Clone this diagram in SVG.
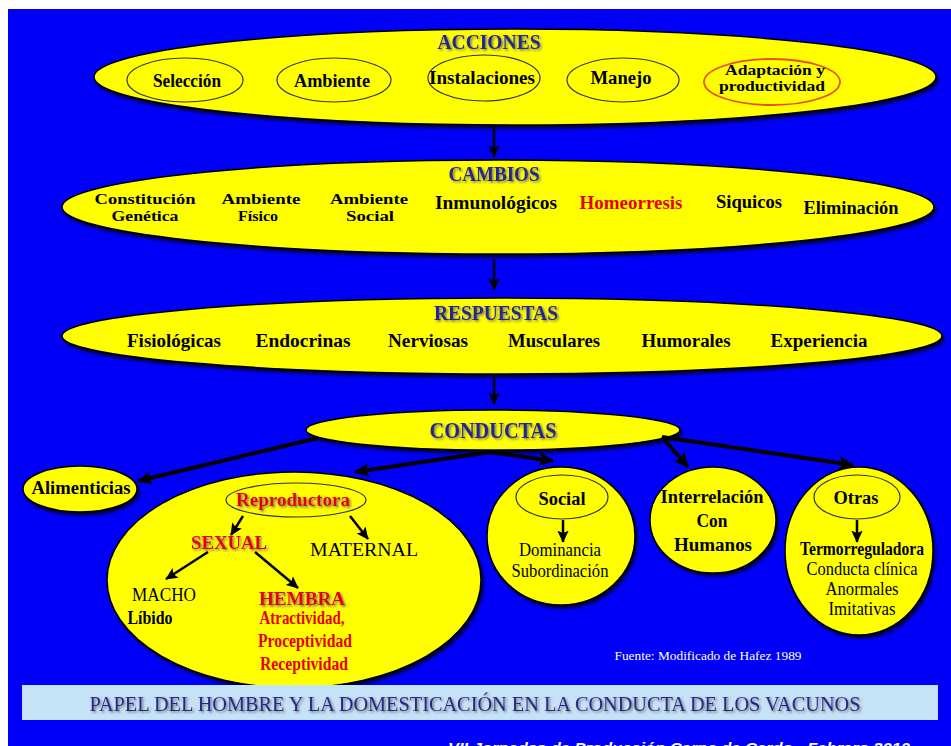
<svg xmlns="http://www.w3.org/2000/svg" width="951" height="746" viewBox="0 0 951 746">
<defs>
<filter id="es" x="-10%" y="-10%" width="120%" height="130%"><feDropShadow dx="2" dy="3" stdDeviation="1.5" flood-color="#000" flood-opacity="0.75"/></filter>
<filter id="ts" x="-10%" y="-30%" width="120%" height="160%"><feDropShadow dx="1.5" dy="1.5" stdDeviation="0.8" flood-color="#666" flood-opacity="0.9"/></filter>
<marker id="ah" markerUnits="userSpaceOnUse" markerWidth="16" markerHeight="16" viewBox="0 0 16 16" refX="14" refY="8" orient="auto"><path d="M0,1 L15,8 L0,15 L3,8 z" fill="#000"/></marker>
<marker id="ahs" markerUnits="userSpaceOnUse" markerWidth="13" markerHeight="13" viewBox="0 0 16 16" refX="14" refY="8" orient="auto"><path d="M0,1 L15,8 L0,15 L3,8 z" fill="#000"/></marker>
<style>
.e{fill:#FFFF00;stroke:#000;stroke-width:1.5;filter:url(#es)}
.ie{fill:none;stroke:#333;stroke-width:1.2}
.t{font-family:"Liberation Serif","Times New Roman",serif;font-weight:bold;font-size:18px;fill:#000;text-anchor:middle}
.two{font-size:15px}
.h{font-family:"Liberation Serif","Times New Roman",serif;font-weight:bold;fill:#26268C;text-anchor:middle;filter:url(#ts)}
.r{fill:#E80000}
.n{font-weight:normal}
.c{fill:none;stroke:#000;stroke-width:4;marker-end:url(#ah)}
.cs{fill:none;stroke:#000;stroke-width:2.5;marker-end:url(#ahs)}
</style>
</defs>
<rect x="0" y="0" width="951" height="746" fill="#fff"/>
<rect x="8" y="9" width="943" height="737" fill="#0000F8"/>

<g id="acciones">
<ellipse class="e" cx="515" cy="77" rx="421" ry="48"/>
<text class="h" x="489" y="49" font-size="22" textLength="103" lengthAdjust="spacingAndGlyphs">ACCIONES</text>
<ellipse class="ie" cx="185" cy="80" rx="58" ry="22"/>
<text class="t" x="187" y="87" font-size="19" textLength="68" lengthAdjust="spacingAndGlyphs">Selección</text>
<ellipse class="ie" cx="334" cy="80" rx="57" ry="22"/>
<text class="t" x="332" y="87" font-size="19" textLength="76" lengthAdjust="spacingAndGlyphs">Ambiente</text>
<ellipse class="ie" cx="484" cy="78" rx="56" ry="23"/>
<text class="t" x="482" y="84" font-size="19" textLength="106" lengthAdjust="spacingAndGlyphs">Instalaciones</text>
<ellipse class="ie" cx="623" cy="80" rx="56" ry="22"/>
<text class="t" x="621" y="84" font-size="19" textLength="61" lengthAdjust="spacingAndGlyphs">Manejo</text>
<ellipse cx="772" cy="82" rx="68" ry="23" fill="none" stroke="#E8501A" stroke-width="1.8"/>
<text class="t two" x="775" y="75" textLength="100" lengthAdjust="spacingAndGlyphs">Adaptación y</text>
<text class="t two" x="772" y="91" textLength="106" lengthAdjust="spacingAndGlyphs">productividad</text>
</g>

<g id="cambios">
<ellipse class="e" cx="498" cy="207" rx="436" ry="47"/>
<text class="h" x="494" y="181" font-size="21" textLength="91" lengthAdjust="spacingAndGlyphs">CAMBIOS</text>
<text class="t two" x="145" y="204" textLength="101" lengthAdjust="spacingAndGlyphs">Constitución</text>
<text class="t two" x="145" y="221" textLength="67" lengthAdjust="spacingAndGlyphs">Genética</text>
<text class="t two" x="261" y="204" textLength="79" lengthAdjust="spacingAndGlyphs">Ambiente</text>
<text class="t two" x="258" y="221" textLength="40" lengthAdjust="spacingAndGlyphs">Físico</text>
<text class="t two" x="369" y="204" textLength="78" lengthAdjust="spacingAndGlyphs">Ambiente</text>
<text class="t two" x="370" y="221" textLength="48" lengthAdjust="spacingAndGlyphs">Social</text>
<text class="t" x="496" y="209" font-size="19" textLength="122" lengthAdjust="spacingAndGlyphs">Inmunológicos</text>
<text class="t r" x="631" y="209" font-size="19" textLength="103" lengthAdjust="spacingAndGlyphs">Homeorresis</text>
<text class="t" x="749" y="208" font-size="19" textLength="66" lengthAdjust="spacingAndGlyphs">Siquicos</text>
<text class="t" x="851" y="214" font-size="19" textLength="95" lengthAdjust="spacingAndGlyphs">Eliminación</text>
</g>

<g id="respuestas">
<ellipse class="e" cx="502" cy="336" rx="440" ry="38"/>
<text class="h" x="496" y="320" font-size="21" textLength="124" lengthAdjust="spacingAndGlyphs">RESPUESTAS</text>
<text class="t" x="174" y="347" font-size="19" textLength="94" lengthAdjust="spacingAndGlyphs">Fisiológicas</text>
<text class="t" x="303" y="347" font-size="19" textLength="95" lengthAdjust="spacingAndGlyphs">Endocrinas</text>
<text class="t" x="428" y="347" font-size="19" textLength="80" lengthAdjust="spacingAndGlyphs">Nerviosas</text>
<text class="t" x="554" y="347" font-size="19" textLength="92" lengthAdjust="spacingAndGlyphs">Musculares</text>
<text class="t" x="686" y="347" font-size="19" textLength="89" lengthAdjust="spacingAndGlyphs">Humorales</text>
<text class="t" x="819" y="347" font-size="19" textLength="97" lengthAdjust="spacingAndGlyphs">Experiencia</text>
</g>

<g id="conductas">
<ellipse class="e" cx="493" cy="430" rx="187" ry="20"/>
<text class="h" x="493" y="438" font-size="23" textLength="127" lengthAdjust="spacingAndGlyphs">CONDUCTAS</text>
</g>

<g id="alimenticias">
<ellipse class="e" cx="80" cy="489" rx="57" ry="23"/>
<text class="t" x="81" y="494" font-size="18" textLength="99" lengthAdjust="spacingAndGlyphs">Alimenticias</text>
</g>

<g id="reproductora">
<ellipse class="e" cx="294" cy="580" rx="187" ry="108"/>
<ellipse class="ie" cx="296" cy="500" rx="70" ry="17"/>
<text class="t r" x="293" y="506" font-size="18" textLength="114" lengthAdjust="spacingAndGlyphs" filter="url(#ts)">Reproductora</text>
<text class="t r" x="229" y="549" font-size="18" textLength="76" lengthAdjust="spacingAndGlyphs" filter="url(#ts)">SEXUAL</text>
<text class="t n" x="364" y="556" font-size="18" textLength="108" lengthAdjust="spacingAndGlyphs">MATERNAL</text>
<text class="t n" x="164" y="601" font-size="16" textLength="64" lengthAdjust="spacingAndGlyphs">MACHO</text>
<text class="t" x="150" y="624" font-size="15" textLength="45" lengthAdjust="spacingAndGlyphs">Líbido</text>
<text class="t r" x="302" y="605" font-size="18" textLength="86" lengthAdjust="spacingAndGlyphs" filter="url(#ts)">HEMBRA</text>
<text class="t r" x="302" y="624" font-size="14" textLength="85" lengthAdjust="spacingAndGlyphs">Atractividad,</text>
<text class="t r" x="305" y="647" font-size="15" textLength="94" lengthAdjust="spacingAndGlyphs">Proceptividad</text>
<text class="t r" x="304" y="670" font-size="15" textLength="88" lengthAdjust="spacingAndGlyphs">Receptividad</text>
</g>

<g id="social">
<ellipse class="e" cx="561" cy="536" rx="74" ry="69"/>
<ellipse class="ie" cx="562" cy="497" rx="46" ry="22"/>
<text class="t" x="562" y="505" font-size="17" textLength="47" lengthAdjust="spacingAndGlyphs">Social</text>
<text class="t n" x="560" y="556" font-size="14" textLength="82" lengthAdjust="spacingAndGlyphs">Dominancia</text>
<text class="t n" x="560" y="577" font-size="14" textLength="97" lengthAdjust="spacingAndGlyphs">Subordinación</text>
</g>

<g id="interrelacion">
<ellipse class="e" cx="713" cy="520" rx="63" ry="53"/>
<text class="t" x="712" y="503" font-size="17" textLength="103" lengthAdjust="spacingAndGlyphs">Interrelación</text>
<text class="t" x="712" y="527" font-size="17" textLength="31" lengthAdjust="spacingAndGlyphs">Con</text>
<text class="t" x="713" y="551" font-size="17" textLength="78" lengthAdjust="spacingAndGlyphs">Humanos</text>
</g>

<g id="otras">
<ellipse class="e" cx="859" cy="551" rx="74" ry="84"/>
<ellipse class="ie" cx="857" cy="497" rx="43" ry="22"/>
<text class="t" x="856" y="504" font-size="17" textLength="45" lengthAdjust="spacingAndGlyphs">Otras</text>
<text class="t" x="862" y="555" font-size="14" textLength="124" lengthAdjust="spacingAndGlyphs">Termorreguladora</text>
<text class="t n" x="862" y="575" font-size="14" textLength="111" lengthAdjust="spacingAndGlyphs">Conducta clínica</text>
<text class="t n" x="862" y="595" font-size="14" textLength="73" lengthAdjust="spacingAndGlyphs">Anormales</text>
<text class="t n" x="862" y="615" font-size="14" textLength="67" lengthAdjust="spacingAndGlyphs">Imitativas</text>
</g>

<g id="fuente">
<text x="708" y="660" font-family="Liberation Serif, serif" font-size="12" fill="#fff" text-anchor="middle" textLength="187" lengthAdjust="spacingAndGlyphs">Fuente: Modificado de Hafez 1989</text>
</g>

<g id="titulo">
<rect x="22" y="685" width="916" height="35" fill="#C6E2F6"/>
<text class="h" x="475" y="711" font-size="22" textLength="771" lengthAdjust="spacingAndGlyphs" style="font-weight:normal">PAPEL DEL HOMBRE Y LA DOMESTICACIÓN EN LA CONDUCTA DE LOS VACUNOS</text>
</g>

<g id="pie">
<text x="448" y="753" font-family="Liberation Sans, Arial, sans-serif" font-weight="bold" font-style="italic" font-size="15" fill="#fff" textLength="462" lengthAdjust="spacingAndGlyphs">VII Jornadas de Producción Carne de Cerdo - Febrero 2010</text>
</g>

<g id="connectors">
<line class="cs" x1="494" y1="127" x2="494" y2="157"/>
<line class="cs" x1="494" y1="259" x2="494" y2="290"/>
<line class="cs" x1="494" y1="376" x2="494" y2="404"/>
<path class="c" d="M318,438 L138,481"/>
<path class="c" d="M490,452 L355,472"/>
<path class="c" d="M490,452 L553,461"/>
<path class="c" d="M662,437 L688,467"/>
<path class="c" d="M662,437 L853,465"/>
<line class="cs" x1="243" y1="516" x2="231" y2="535"/>
<line class="cs" x1="350" y1="516" x2="368" y2="539"/>
<line class="cs" x1="208" y1="552" x2="166" y2="579"/>
<line class="cs" x1="255" y1="552" x2="298" y2="588"/>
<line class="cs" x1="563" y1="520" x2="563" y2="542"/>
<line class="cs" x1="857" y1="520" x2="857" y2="542"/>
</g>
</svg>
